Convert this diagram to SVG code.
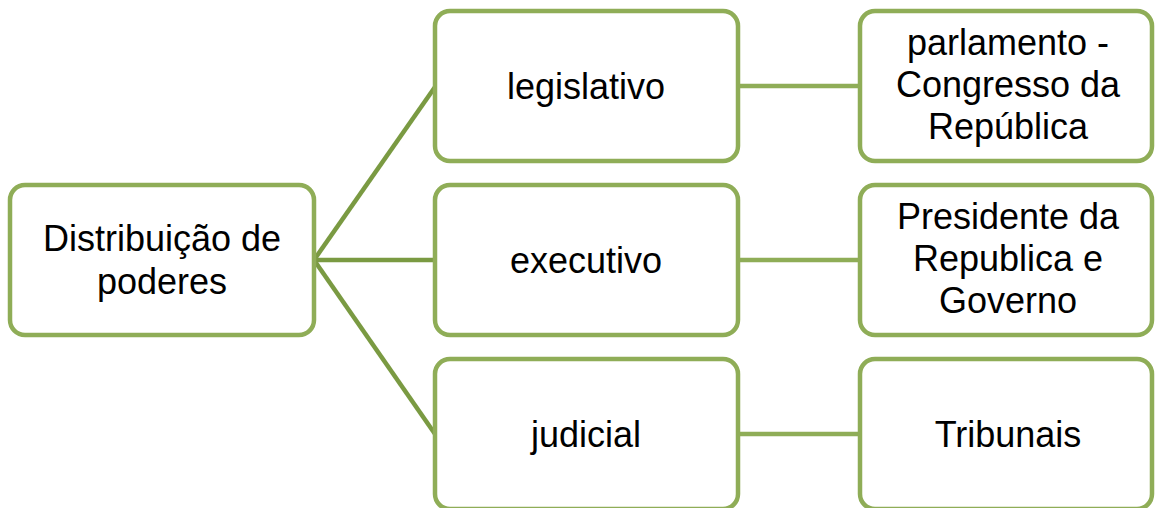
<svg xmlns="http://www.w3.org/2000/svg" width="1155" height="508" viewBox="0 0 1155 508">
<style>
.box{fill:#ffffff;stroke:#8fad57;stroke-width:4.5}
.c1{stroke:#7a9a42;stroke-width:4.5;fill:none}
.c2{stroke:#8fad57;stroke-width:4.5;fill:none}
text{font-family:"Liberation Sans",Arial,sans-serif;font-size:36px;fill:#000000;text-anchor:middle}
</style>
<rect width="1155" height="508" fill="#ffffff"/>
<g id="connectors">
<line class="c1" x1="314" y1="260" x2="435" y2="87"/>
<line class="c1" x1="314" y1="260" x2="435" y2="260"/>
<line class="c1" x1="314" y1="260" x2="435" y2="434"/>
<line class="c2" x1="738" y1="86" x2="860" y2="86"/>
<line class="c2" x1="738" y1="260" x2="860" y2="260"/>
<line class="c2" x1="738" y1="434" x2="860" y2="434"/>
</g>
<g id="root">
<rect class="box" x="10" y="185" width="304" height="150" rx="15"/>
<text x="162" y="251">Distribuição de</text>
<text x="162" y="294">poderes</text>
</g>
<g id="legislativo">
<rect class="box" x="435" y="11" width="303" height="150" rx="15"/>
<text x="586" y="99">legislativo</text>
</g>
<g id="executivo">
<rect class="box" x="435" y="185" width="303" height="150" rx="15"/>
<text x="586" y="273">executivo</text>
</g>
<g id="judicial">
<rect class="box" x="435" y="359" width="303" height="150" rx="15"/>
<text x="586" y="447">judicial</text>
</g>
<g id="parlamento">
<rect class="box" x="860" y="11" width="292" height="150" rx="15"/>
<text x="1008" y="55">parlamento -</text>
<text x="1008" y="97">Congresso da</text>
<text x="1008" y="139">República</text>
</g>
<g id="presidente">
<rect class="box" x="860" y="185" width="292" height="150" rx="15"/>
<text x="1008" y="229">Presidente da</text>
<text x="1008" y="271">Republica e</text>
<text x="1008" y="313">Governo</text>
</g>
<g id="tribunais">
<rect class="box" x="860" y="359" width="292" height="150" rx="15"/>
<text x="1008" y="447">Tribunais</text>
</g>
</svg>
